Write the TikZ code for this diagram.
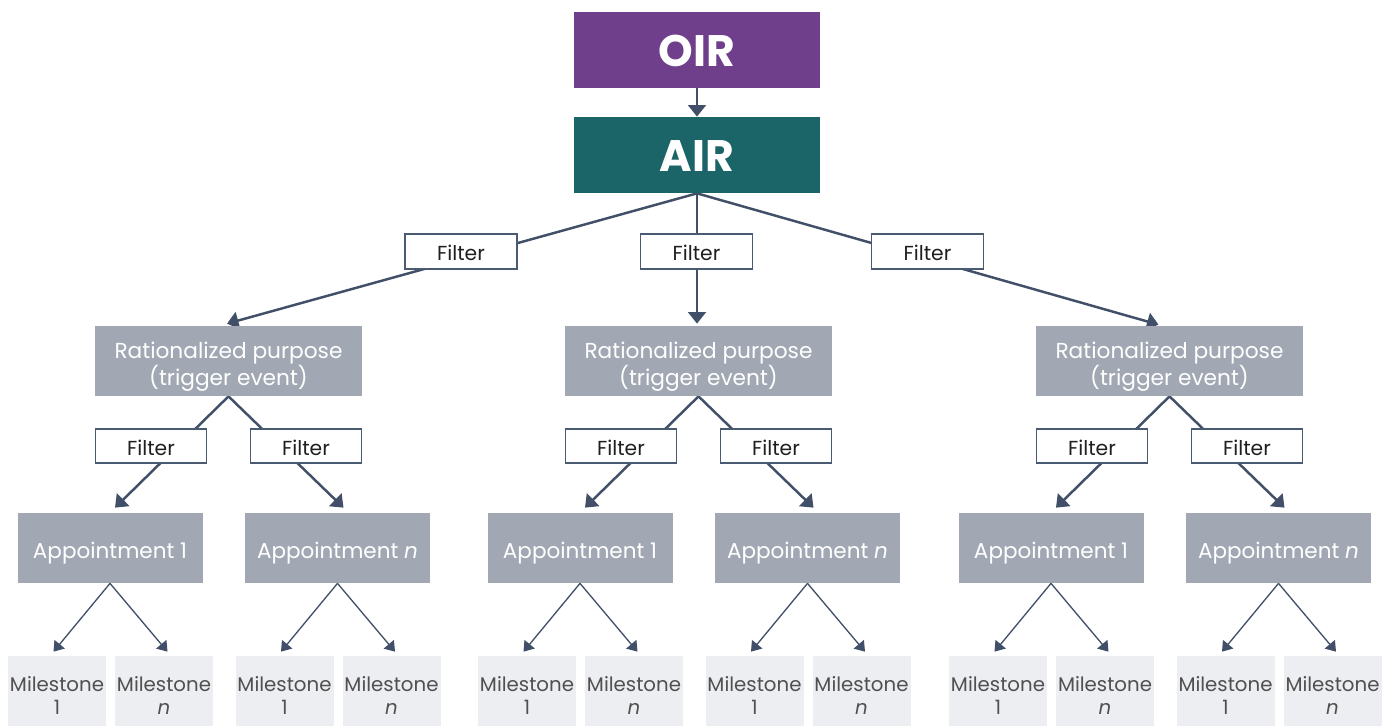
\documentclass[tikz,border=0pt]{standalone}
\usepackage{fontspec}
\setmainfont{Poppins}
\usetikzlibrary{arrows.meta,calc,backgrounds}
\definecolor{oirc}{HTML}{6F3F8C}
\definecolor{airc}{HTML}{1B6468}
\definecolor{grayc}{HTML}{A1A8B3}
\definecolor{lightc}{HTML}{ECEEF1}
\definecolor{linec}{HTML}{415068}
\definecolor{fborder}{HTML}{4A5A70}
\definecolor{mstext}{HTML}{505050}
\def\lowamt{0pt}
\newcommand\bt[1]{\raisebox{-\lowamt}[\height][\depth]{\begin{tabular}{@{}c@{}}#1\end{tabular}}}
\begin{document}
\begin{tikzpicture}[x=0.5669pt,y=-0.5669pt,
  lowtext/.style={execute at begin node={\def\lowamt{#1}}},
  box/.style={rectangle, inner sep=0pt, text=white},
  topbox/.style={box, minimum width=246*0.5669pt, minimum height=76*0.5669pt, font=\fontsize{25}{30}\selectfont\bfseries, lowtext=3.2pt},
  filt/.style={rectangle, inner sep=0pt, draw=fborder, line width=0.8pt, fill=white, text=black!88, font=\fontsize{11.5}{14}\selectfont, lowtext=2.3pt},
  topfilt/.style={filt, minimum width=112*0.5669pt, minimum height=35*0.5669pt},
  subfilt/.style={filt, minimum width=111*0.5669pt, minimum height=34*0.5669pt},
  rpbox/.style={box, fill=grayc, minimum width=267*0.5669pt, minimum height=70*0.5669pt, font=\fontsize{12.3}{12.6}\selectfont, lowtext=3.4pt},
  appbox/.style={box, fill=grayc, minimum width=185*0.5669pt, minimum height=70*0.5669pt, font=\fontsize{12.2}{14}\selectfont, lowtext=3.4pt},
  msbox/.style={box, fill=lightc, text=mstext, minimum width=98*0.5669pt, minimum height=70*0.5669pt, font=\fontsize{11.2}{13}\selectfont, lowtext=4.2pt},
  conn/.style={draw=linec, line width=1.4pt, -{Triangle[length=6.5pt,width=10pt]}},
  thinconn/.style={draw=linec, line width=0.75pt, -{Triangle[length=5.5pt,width=7.5pt]}}
]
\useasboundingbox (0,0) rectangle (1394,726);

\node[topbox, fill=oirc] (oir) at (697,50) {\bt{OIR}};
\node[topbox, fill=airc] (air) at (697,155) {\bt{AIR}};
\draw[conn] (oir) -- (air);

\node[topfilt] (tf1) at (461,251.5) {\bt{Filter}};
\node[topfilt] (tf2) at (696.5,251.5) {\bt{Filter}};
\node[topfilt] (tf3) at (927.5,251.5) {\bt{Filter}};

\foreach \i/\cx in {1/228.5,2/698.5,3/1169.5}{
  \node[rpbox] (rp\i) at (\cx,361) {\bt{Rationalized purpose\\(trigger event)}};
  \node[subfilt] (fl\i) at (\cx-77.5,446) {\bt{Filter}};
  \node[subfilt] (fr\i) at (\cx+77.5,446) {\bt{Filter}};
  \node[appbox] (al\i) at (\cx-118.5,548) {\bt{Appointment 1}};
  \node[appbox] (ar\i) at (\cx+109,548) {\bt{Appointment \textit{n}}};
  \node[msbox] (mll\i) at (\cx-118.5-53,691) {\bt{Milestone\\1}};
  \node[msbox] (mlr\i) at (\cx-118.5+54,691) {\bt{Milestone\\\textit{n}}};
  \node[msbox] (mrl\i) at (\cx+109-53,691) {\bt{Milestone\\1}};
  \node[msbox] (mrr\i) at (\cx+109+54,691) {\bt{Milestone\\\textit{n}}};
  \coordinate (tal\i) at ($(al\i.north)+(5,-5)$);
  \coordinate (tar\i) at ($(ar\i.north)+(6,-5)$);
  \begin{pgfonlayer}{background}
    \draw[conn] (rp\i.south) -- (tal\i);
    \draw[conn] (rp\i.south) -- (tar\i);
  \end{pgfonlayer}
  \coordinate (tmll\i) at ($(mll\i.north)+(-3.5,-4)$);
  \coordinate (tmlr\i) at ($(mlr\i.north)+(3.5,-4)$);
  \coordinate (tmrl\i) at ($(mrl\i.north)+(-3.5,-4)$);
  \coordinate (tmrr\i) at ($(mrr\i.north)+(3.5,-4)$);
  \draw[thinconn] (al\i.south) -- (tmll\i);
  \draw[thinconn] (al\i.south) -- (tmlr\i);
  \draw[thinconn] (ar\i.south) -- (tmrl\i);
  \draw[thinconn] (ar\i.south) -- (tmrr\i);
}

\coordinate (trp1) at ($(rp1.north)+(-1.5,-2)$);
\coordinate (trp2) at ($(rp2.north)+(-1.5,-2)$);
\coordinate (trp3) at ($(rp3.north)+(-11,-1)$);
\begin{pgfonlayer}{background}
  \draw[conn] (air.south) -- (trp1);
  \draw[conn] (air.south) -- (trp2);
  \draw[conn] (air.south) -- (trp3);
\end{pgfonlayer}
\end{tikzpicture}
\end{document}
